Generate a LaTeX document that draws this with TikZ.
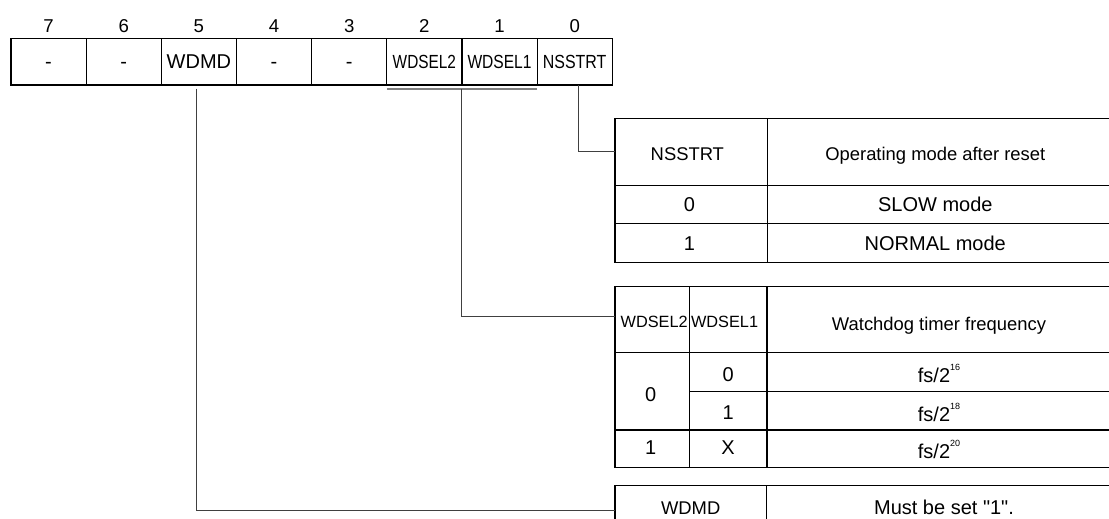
\documentclass[tikz,border=0pt]{standalone}
\usepackage{fontspec}
\setmainfont{Liberation Sans}[Ligatures=TeXOff]
\usetikzlibrary{calc}
\begin{document}
\begin{tikzpicture}[x=1pt,y=-1pt,
  box/.style={draw=black, line width=1.1pt, inner sep=0pt, outer sep=0pt, anchor=north west},
  regcell/.style={box, minimum width=75.16pt, minimum height=46.3pt, font=\fontsize{20}{20}\selectfont, text height=14.3pt, text depth=0pt},
  bitnum/.style={inner sep=0pt, font=\fontsize{18.6}{18.6}\selectfont, text height=13.3pt, text depth=0pt},
  hd/.style={inner sep=0pt, font=\fontsize{18.4}{18.4}\selectfont, text height=13.2pt, text depth=0pt},
  hds/.style={inner sep=0pt, font=\fontsize{16.3}{16.3}\selectfont, text height=11.7pt, text depth=0pt},
  bd/.style={inner sep=0pt, font=\fontsize{20}{20}\selectfont, text height=14.3pt, text depth=0pt},
  conn/.style={draw=black!75, line width=1pt},
  bracket/.style={draw=black!50, line width=1.6pt},
]
\useasboundingbox (0,0) rectangle (1109,519);
\clip (0,0) rectangle (1109,519);

% register
\node[regcell] (b7) at (11,38.7) {-};
\node[regcell] (b6) at (b7.north east) {-};
\node[regcell] (b5) at (b6.north east) {WDMD};
\node[regcell] (b4) at (b5.north east) {-};
\node[regcell] (b3) at (b4.north east) {-};
\node[regcell] (b2) at (b3.north east) {\fontsize{19}{19}\selectfont\scalebox{0.81}[1]{WDSEL2}};
\node[regcell] (b1) at (b2.north east) {\fontsize{19}{19}\selectfont\scalebox{0.82}[1]{WDSEL1}};
\node[regcell] (b0) at (b1.north east) {\fontsize{19}{19}\selectfont\scalebox{0.84}[1]{NSSTRT}};

\node[bitnum] (n7) at ($(b7.center)+(0,-36.1)$) {7};
\node[bitnum] (n6) at ($(b6.center)+(0,-36.1)$) {6};
\node[bitnum] (n5) at ($(b5.center)+(0,-36.1)$) {5};
\node[bitnum] (n4) at ($(b4.center)+(0,-36.1)$) {4};
\node[bitnum] (n3) at ($(b3.center)+(0,-36.1)$) {3};
\node[bitnum] (n2) at ($(b2.center)+(0,-36.1)$) {2};
\node[bitnum] (n1) at ($(b1.center)+(0,-36.1)$) {1};
\node[bitnum] (n0) at ($(b0.center)+(0,-36.1)$) {0};

% table 1
\node[box, minimum width=152.7pt, minimum height=67pt] (t1a) at (615,118.3) {};
\node[box, minimum width=350pt, minimum height=67pt] (t1b) at (t1a.north east) {};
\node[box, minimum width=152.7pt, minimum height=38.4pt] (t1c) at (t1a.south west) {};
\node[box, minimum width=350pt, minimum height=38.4pt] (t1d) at (t1c.north east) {};
\node[box, minimum width=152.7pt, minimum height=38.6pt] (t1e) at (t1c.south west) {};
\node[box, minimum width=350pt, minimum height=38.6pt] (t1f) at (t1e.north east) {};
\node[hd] (x1a) at ($(t1a.center)+(-4,2.5)$) {NSSTRT};
\node[hd] (x1b) at ($(t1b.center)+(-7.4,2.5)$) {Operating mode after reset};
\node[bd] (x1c) at ($(t1c.center)+(-2,0)$) {0};
\node[bd] (x1d) at ($(t1d.center)+(-7.4,0)$) {SLOW mode};
\node[bd] (x1e) at ($(t1e.center)+(-2,0)$) {1};
\node[bd] (x1f) at ($(t1f.center)+(-7.4,0)$) {NORMAL mode};

% table 2
\node[box, minimum width=74.3pt, minimum height=66pt] (t2a) at (615,286.7) {};
\node[box, minimum width=77.7pt, minimum height=66pt] (t2b) at (t2a.north east) {};
\node[box, minimum width=350pt, minimum height=66pt] (t2c) at (t2b.north east) {};
\node[box, minimum width=74.3pt, minimum height=77.3pt] (t2d) at (t2a.south west) {};
\node[box, minimum width=77.7pt, minimum height=39pt] (t2e) at (t2d.north east) {};
\node[box, minimum width=350pt, minimum height=39pt] (t2f) at (t2e.north east) {};
\node[box, minimum width=77.7pt, minimum height=38.3pt] (t2g) at (t2e.south west) {};
\node[box, minimum width=350pt, minimum height=38.3pt] (t2h) at (t2g.north east) {};
\node[box, minimum width=74.3pt, minimum height=37.3pt] (t2i) at (t2d.south west) {};
\node[box, minimum width=77.7pt, minimum height=37.3pt] (t2j) at (t2i.north east) {};
\node[box, minimum width=350pt, minimum height=37.3pt] (t2k) at (t2j.north east) {};
\node[hds] (x2a) at ($(t2a.center)+(2,2)$) {WDSEL2};
\node[hds] (x2b) at ($(t2b.center)+(-3.6,2)$) {WDSEL1};
\node[hd] (x2c) at ($(t2c.center)+(-3,4)$) {Watchdog timer frequency};
\node[bd] (x2d) at ($(t2d.center)+(-1.5,3)$) {0};
\node[bd] (x2e) at ($(t2e.center)+(0,2)$) {0};
\node[bd] (x2f) at ($(t2f.center)+(-3,3)$) {fs/2\raisebox{12pt}{\fontsize{9}{9}\selectfont 16}};
\node[bd] (x2g) at ($(t2g.center)+(0,1.4)$) {1};
\node[bd] (x2h) at ($(t2h.center)+(-3,3)$) {fs/2\raisebox{12pt}{\fontsize{9}{9}\selectfont 18}};
\node[bd] (x2i) at ($(t2i.center)+(-1.5,-1)$) {1};
\node[bd] (x2j) at ($(t2j.center)+(0,-1)$) {X};
\node[bd] (x2k) at ($(t2k.center)+(-3,3)$) {fs/2\raisebox{12pt}{\fontsize{9}{9}\selectfont 20}};

% table 3
\node[box, minimum width=151.3pt, minimum height=45pt] (t3a) at (615,485.3) {};
\node[box, minimum width=350pt, minimum height=45pt] (t3b) at (t3a.north east) {};
\node[hd] (x3a) at ($(t3a.center)+(0,0)$) {WDMD};
\node[bd] (x3b) at ($(t3b.center)+(2.7,0)$) {Must be set "1".};

% connectors
\coordinate (brL) at ([yshift=-4pt]b2.south west);
\coordinate (brR) at ([yshift=-4pt]b1.south east);
\coordinate (brM) at ($(brL)!0.5!(brR)$);
\draw[bracket] (brL) -- (brR);
\draw[conn] ([xshift=3.3pt]b0.south) |- (t1a.west);
\draw[conn] (brM) |- ([yshift=3.7pt]t2a.west);
\draw[conn] ([xshift=-2.5pt,yshift=-3.6pt]b5.south) |- ([yshift=-2.7pt]t3a.west);
\end{tikzpicture}
\end{document}
